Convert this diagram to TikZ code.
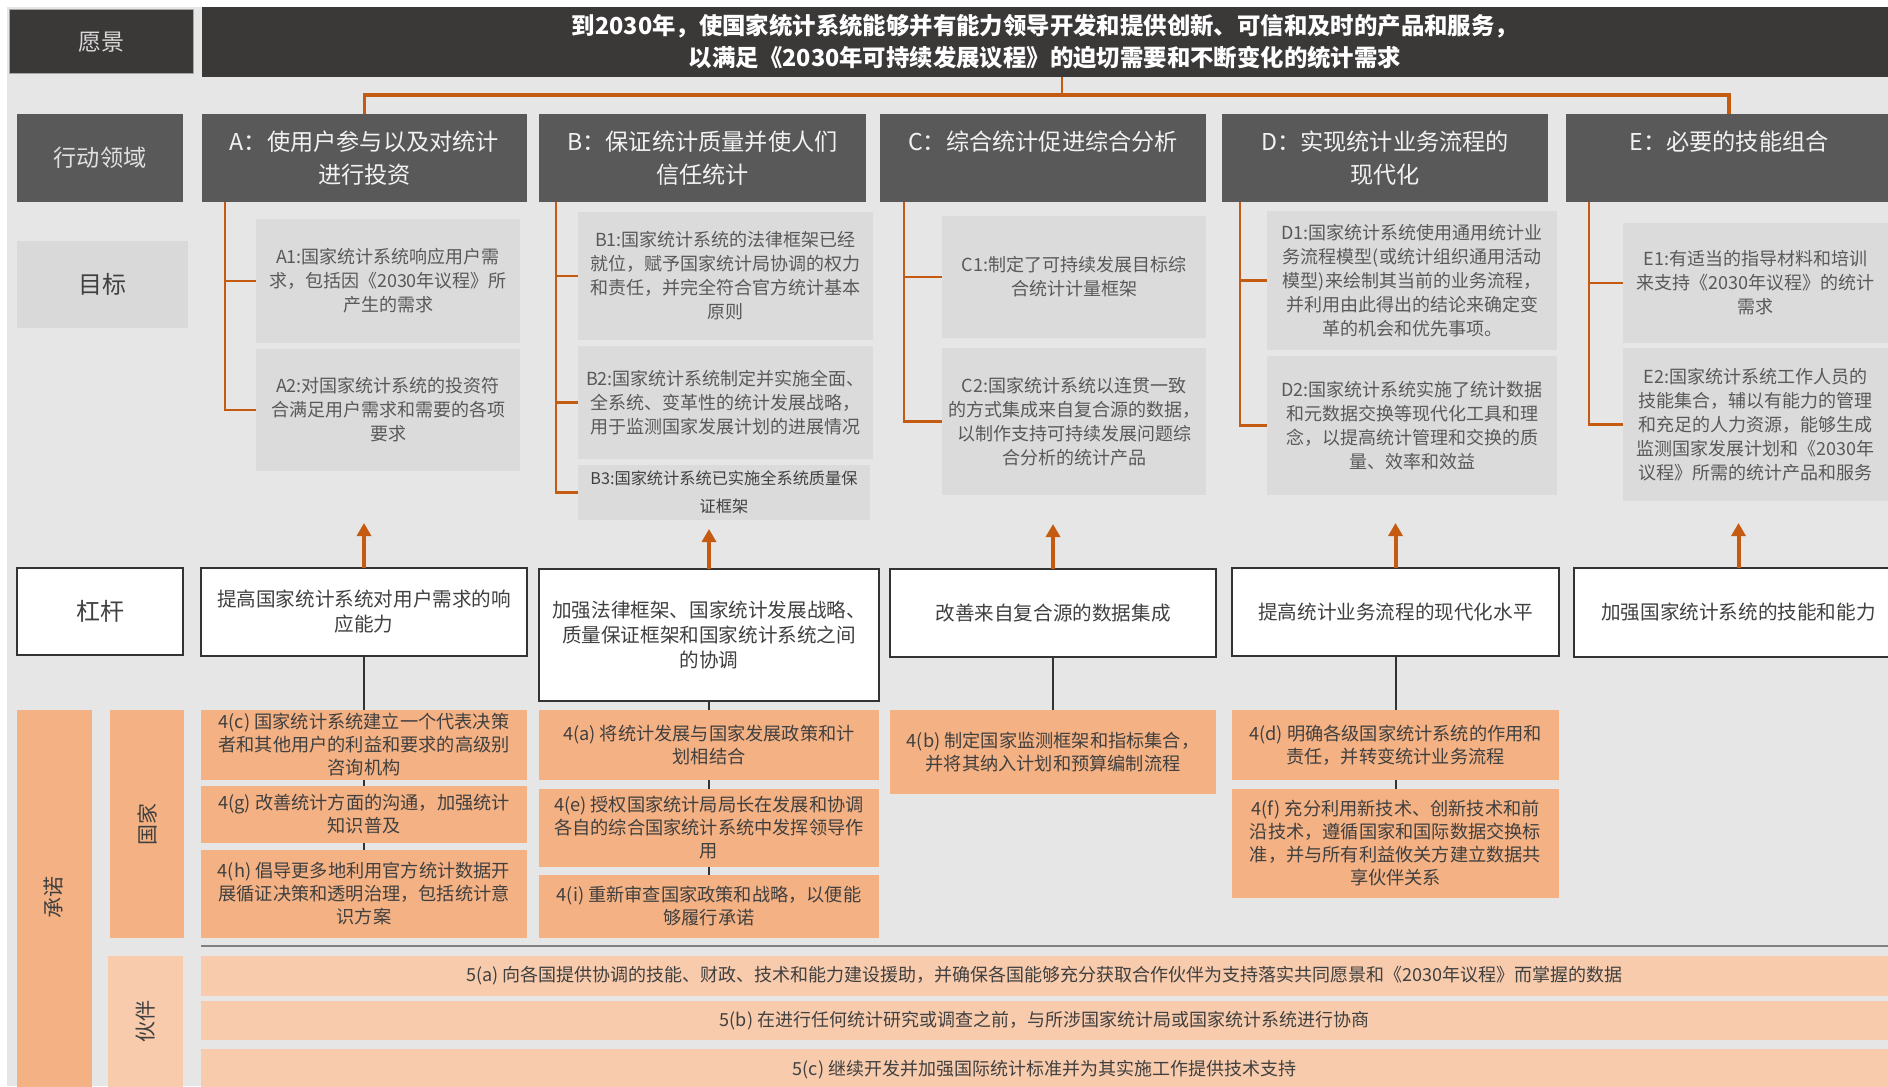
\documentclass[tikz,border=0pt]{standalone}
\usepackage{fontspec}
\setmainfont{Noto Sans CJK SC}
\usetikzlibrary{arrows.meta,calc}
\XeTeXlinebreaklocale "zh"
\definecolor{bgc}{HTML}{E6E6E6}
\definecolor{visc}{HTML}{3B3838}
\definecolor{hdc}{HTML}{595959}
\definecolor{goalc}{HTML}{DBDBDB}
\definecolor{orc}{HTML}{C55A11}
\definecolor{comc}{HTML}{F4B183}
\definecolor{parc}{HTML}{F8CBAD}
\definecolor{txtd}{HTML}{404040}
\definecolor{txtg}{HTML}{595959}
\newcommand\mybox[7]{\node[#1,minimum width={(#5-#3)*0.5pt},minimum height={(#6-#4)*0.5pt}] (#2) at ({(#3+#5)/2},{(#4+#6)/2}) {#7};}
\tikzset{
  base/.style={inner sep=0pt,outer sep=0pt,align=center},
  visbox/.style={base,fill=visc,text=white,font=\fontsize{11.7}{16}\selectfont\bfseries},
  lab/.style={base,fill=hdc,text=black!12,font=\fontsize{11.6}{14}\selectfont},
  hdr/.style={base,fill=hdc,text=black!5,font=\fontsize{11.6}{16.5}\selectfont},
  goal/.style={base,fill=goalc,text=txtg,font=\fontsize{9}{12}\selectfont},
  lev/.style={base,fill=white,draw=black!80,line width=0.9pt,text=txtd,font=\fontsize{9.8}{12.5}\selectfont},
  com/.style={base,fill=comc,text=txtd,font=\fontsize{9.1}{11.5}\selectfont},
  par/.style={base,fill=parc,text=txtd,font=\fontsize{9}{11}\selectfont},
  oline/.style={draw=orc,line width=1.4pt},
  oarr/.style={draw=orc,line width=2pt,-{Triangle[width=7pt,length=6.5pt]}},
  kline/.style={draw=black!80,line width=1pt},
  vtext/.style={base,rotate=90,text=txtd,font=\fontsize{10.5}{12}\selectfont}
}
\begin{document}
\begin{tikzpicture}[x=0.5pt,y=-0.5pt]
\useasboundingbox (0,0) rectangle (1888,1086);
\clip (0,0) rectangle (1888,1086);
\fill[white] (0,0) rectangle (1888,1086);
\fill[bgc] (7,7) rectangle (1888,1086);
% vision
\mybox{visbox,draw=black!35,line width=0.5pt,font=\fontsize{11.5}{14}\selectfont,text=black!15}{lVis}{9}{10}{193}{74}{愿景}
\mybox{visbox}{vis}{202}{7}{1888}{77}{到2030年，使国家统计系统能够并有能力领导开发和提供创新、可信和及时的产品和服务，\\以满足《2030年可持续发展议程》的迫切需要和不断变化的统计需求}
% action areas
\mybox{lab}{lAct}{17}{114}{183}{202}{行动领域}
\mybox{hdr}{hA}{202}{114}{527}{202}{A：使用户参与以及对统计\\进行投资}
\mybox{hdr}{hB}{539}{114}{866}{202}{B：保证统计质量并使人们\\信任统计}
\mybox{hdr}{hC}{880}{114}{1206}{202}{C：综合统计促进综合分析\\\phantom{字}}
\mybox{hdr}{hD}{1222}{114}{1548}{202}{D：实现统计业务流程的\\现代化}
\mybox{hdr}{hE}{1566}{114}{1892}{202}{E：必要的技能组合\\\phantom{字}}
% connector vision -> areas
\draw[oline] ($(vis.south)+(17,0)$) coordinate (vd) -- ++(0,19) coordinate (vj);
\draw[draw=orc,line width=1.8pt] (hA.north) -- ++(0,-19) -| (hE.north);
% goals
\mybox{base,fill=black!15,text=txtd,font=\fontsize{12}{14}\selectfont}{lGoal}{17}{241}{188}{328}{目标}
\mybox{goal}{A1}{256}{219}{520}{343}{A1:国家统计系统响应用户需\\求，包括因《2030年议程》所\\产生的需求}
\mybox{goal}{A2}{256}{349}{520}{471}{A2:对国家统计系统的投资符\\合满足用户需求和需要的各项\\要求}
\mybox{goal}{B1}{578}{212}{873}{340}{B1:国家统计系统的法律框架已经\\就位，赋予国家统计局协调的权力\\和责任，并完全符合官方统计基本\\原则}
\mybox{goal}{B2}{578}{346}{873}{459}{B2:国家统计系统制定并实施全面、\\全系统、变革性的统计发展战略，\\用于监测国家发展计划的进展情况}
\mybox{goal,font=\fontsize{8.1}{13.8}\selectfont,text=txtd}{B3}{578}{465}{870}{520}{B3:国家统计系统已实施全系统质量保\\证框架}
\mybox{goal}{C1}{942}{216}{1206}{338}{C1:制定了可持续发展目标综\\合统计计量框架}
\mybox{goal}{C2}{942}{348}{1206}{495}{C2:国家统计系统以连贯一致\\的方式集成来自复合源的数据，\\以制作支持可持续发展问题综\\合分析的统计产品}
\mybox{goal}{D1}{1267}{211}{1557}{350}{D1:国家统计系统使用通用统计业\\务流程模型(或统计组织通用活动\\模型)来绘制其当前的业务流程，\\并利用由此得出的结论来确定变\\革的机会和优先事项。}
\mybox{goal}{D2}{1267}{356}{1557}{495}{D2:国家统计系统实施了统计数据\\和元数据交换等现代化工具和理\\念，以提高统计管理和交换的质\\量、效率和效益}
\mybox{goal}{E1}{1623}{223}{1888}{343}{E1:有适当的指导材料和培训\\来支持《2030年议程》的统计\\需求}
\mybox{goal}{E2}{1623}{348}{1888}{501}{E2:国家统计系统工作人员的\\技能集合，辅以有能力的管理\\和充足的人力资源，能够生成\\监测国家发展计划和《2030年\\议程》所需的统计产品和服务}
% brackets
\coordinate (vA) at ($(hA.south west)+(23,0)$);
\draw[oline] (vA) |- (A2.west); \draw[oline] (vA |- A1.west) -- (A1.west);
\coordinate (vB) at ($(hB.south west)+(17,0)$);
\draw[oline] (vB) |- (B3.west); \draw[oline] (vB |- B1.west) -- (B1.west); \draw[oline] (vB |- B2.west) -- (B2.west);
\coordinate (vC) at ($(hC.south west)+(24,0)$);
\draw[oline] (vC) |- (C2.west); \draw[oline] (vC |- C1.west) -- (C1.west);
\coordinate (vD) at ($(hD.south west)+(18,0)$);
\draw[oline] (vD) |- (D2.west); \draw[oline] (vD |- D1.west) -- (D1.west);
\coordinate (vE) at ($(hE.south west)+(23,0)$);
\draw[oline] (vE) |- (E2.west); \draw[oline] (vE |- E1.west) -- (E1.west);
% levers
\mybox{lev,font=\fontsize{12}{14}\selectfont}{lLev}{17}{568}{183}{655}{杠杆}
\mybox{lev}{lA}{201}{568}{527}{656}{提高国家统计系统对用户需求的响\\应能力}
\mybox{lev}{lB}{539}{569}{879}{701}{加强法律框架、国家统计发展战略、\\质量保证框架和国家统计系统之间\\的协调}
\mybox{lev}{lC}{890}{569}{1216}{657}{改善来自复合源的数据集成}
\mybox{lev}{lD}{1232}{568}{1559}{656}{提高统计业务流程的现代化水平}
\mybox{lev}{lE}{1574}{568}{1903}{657}{加强国家统计系统的技能和能力}
\coordinate (tA) at ($(lA.north)+(0,-45)$);
\coordinate (tB) at ($(lB.north)+(0,-40)$);
\coordinate (tC) at ($(lC.north)+(0,-45)$);
\coordinate (tD) at ($(lD.north)+(0,-45)$);
\coordinate (tE) at ($(lE.north)+(0,-45)$);
\draw[oarr] (lA.north) -- (tA);
\draw[oarr] (lB.north) -- (tB);
\draw[oarr] (lC.north) -- (tC);
\draw[oarr] (lD.north) -- (tD);
\draw[oarr] (lE.north) -- (tE);
% commitments
\mybox{base,fill=comc}{cLab}{17}{710}{92}{1090}{}
\node[vtext] (cLabT) at (54,897) {承诺};
\mybox{base,fill=comc}{cN}{110}{710}{184}{938}{}
\node[vtext] (cNT) at (147,824) {国家};
\mybox{base,fill=parc}{cP}{108}{956}{183}{1090}{}
\node[vtext] (cPT) at (146,1021) {伙伴};
\mybox{com}{c4c}{201}{710}{527}{780}{4(c) 国家统计系统建立一个代表决策\\者和其他用户的利益和要求的高级别\\咨询机构}
\mybox{com}{c4g}{201}{786}{527}{843}{4(g) 改善统计方面的沟通，加强统计\\知识普及}
\mybox{com}{c4h}{201}{850}{527}{938}{4(h) 倡导更多地利用官方统计数据开\\展循证决策和透明治理，包括统计意\\识方案}
\mybox{com}{c4a}{539}{710}{879}{780}{4(a) 将统计发展与国家发展政策和计\\划相结合}
\mybox{com}{c4e}{539}{789}{879}{867}{4(e) 授权国家统计局局长在发展和协调\\各自的综合国家统计系统中发挥领导作\\用}
\mybox{com}{c4i}{539}{875}{879}{938}{4(i) 重新审查国家政策和战略，以便能\\够履行承诺}
\mybox{com}{c4b}{890}{710}{1216}{794}{4(b) 制定国家监测框架和指标集合，\\并将其纳入计划和预算编制流程}
\mybox{com}{c4d}{1232}{710}{1559}{780}{4(d) 明确各级国家统计系统的作用和\\责任，并转变统计业务流程}
\mybox{com}{c4f}{1232}{789}{1559}{898}{4(f) 充分利用新技术、创新技术和前\\沿技术，遵循国家和国际数据交换标\\准，并与所有利益攸关方建立数据共\\享伙伴关系}
\draw[kline] (lA.south) -- (c4c.north);
\draw[kline] (c4c.south) -- (c4g.north);
\draw[kline] (c4g.south) -- (c4h.north);
\draw[kline] (lB.south) -- (c4a.north);
\draw[kline] (c4a.south) -- (c4e.north);
\draw[kline] (c4e.south) -- (c4i.north);
\draw[kline] (lC.south) -- (c4b.north);
\draw[kline] (lD.south) -- (c4d.north);
\draw[kline] (c4d.south) -- (c4f.north);
\draw[draw=black!50,line width=1pt] (201,946) -- (1888,946);
% partners
\mybox{par}{p5a}{201}{956}{1888}{996}{5(a) 向各国提供协调的技能、财政、技术和能力建设援助，并确保各国能够充分获取合作伙伴为支持落实共同愿景和《2030年议程》而掌握的数据}
\mybox{par}{p5b}{201}{1001}{1888}{1040}{5(b) 在进行任何统计研究或调查之前，与所涉国家统计局或国家统计系统进行协商}
\mybox{par}{p5c}{201}{1049}{1888}{1090}{5(c) 继续开发并加强国际统计标准并为其实施工作提供技术支持}
\end{tikzpicture}
\end{document}
